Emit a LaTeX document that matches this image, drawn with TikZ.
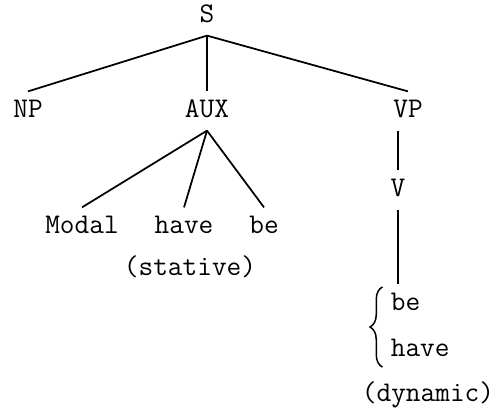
\documentclass[tikz,border=0pt]{standalone}
\usetikzlibrary{decorations.pathreplacing}

\begin{document}
\begin{tikzpicture}[x=0.4pt, y=-0.4pt, line width=0.7pt,
                cat/.style={font=\fontsize{11.4}{13}\selectfont\ttfamily, inner xsep=2pt, inner ysep=3pt,
                text height=7pt, text depth=2pt}]
                \useasboundingbox (0,0) rectangle (498,413);
                \node[cat] (S) at (207,16) {S};
                \node[cat] (NP) at (28,111) {NP};
                \node[cat] (AUX) at (207,111) {AUX};
                \node[cat] (VP) at (408,111) {VP};
                \node[cat] (Modal) at (82,227) {Modal};
                \node[cat] (have) at (184,227) {have};
                \node[cat] (be) at (264,227) {be};
                \node[cat] (stative) at (190,269) {(stative)};
                \node[cat] (V) at (398,190) {V};
                \node[cat, anchor=west] (be2) at (385,304) {be};
                \node[cat, anchor=west] (have2) at (385,350) {have};
                \node[cat] (dynamic) at (428,395) {(dynamic)};
                % branches
                \draw (S.south) -- (NP.north);
                \draw (S.south) -- (AUX.north);
                \draw (S.south) -- (VP.north);
                \draw (AUX.south) -- (Modal.north);
                \draw (AUX.south) -- (have.north);
                \draw (AUX.south) -- (be.north);
                \draw (V.north) -- (V.north |- VP.south);
                \draw (V.south) -- (V.south |- be2.north);
                \draw[decorate, decoration={brace, amplitude=5pt}, line width=0.6pt]
                    ([xshift=-1pt, yshift=1pt]have2.south west) -- ([xshift=-1pt, yshift=-1pt]be2.north west);
            \end{tikzpicture}
\end{document}
